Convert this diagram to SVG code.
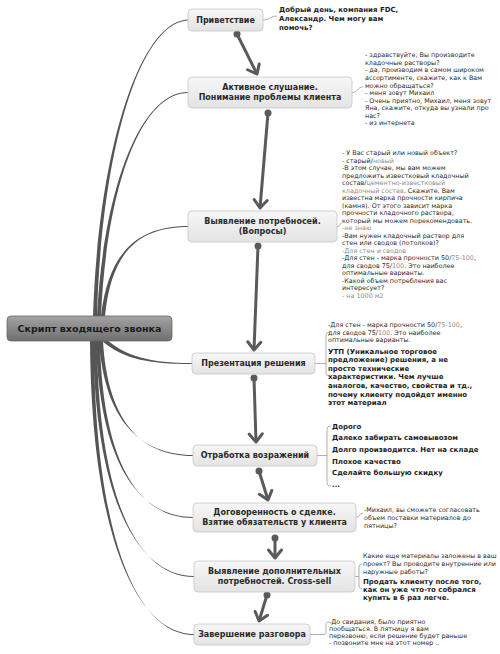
<svg xmlns="http://www.w3.org/2000/svg" width="500" height="654" viewBox="0 0 500 654">
<defs>
<style>
.s{font-family:"DejaVu Sans","Noto Sans",sans-serif;font-size:6.4px;fill:#2b2b2b}
.g{fill:#8c8c8c}
.b7{font-family:"DejaVu Sans","Noto Sans",sans-serif;font-weight:bold;font-size:7px;fill:#1e1e1e}
.nt{font-family:"DejaVu Sans","Noto Sans",sans-serif;font-weight:bold;font-size:8px;fill:#2a2a2a;text-anchor:middle}
.rt{font-family:"DejaVu Sans","Noto Sans",sans-serif;font-weight:bold;font-size:9.5px;fill:#1a1a1a;text-anchor:middle}
.node{fill:url(#ng);stroke:#c6c6c6;stroke-width:0.8}
.rc{fill:#555}
.flow{fill:none;stroke:#5a5a5a;stroke-width:3;marker-end:url(#ah)}
.dot{fill:#5a5a5a}
.thin{fill:none;stroke:#9a9a9a;stroke-width:0.8}
</style>
<linearGradient id="ng" x1="0" y1="0" x2="0" y2="1">
<stop offset="0" stop-color="#f7f7f7"/>
<stop offset="1" stop-color="#e3e3e3"/>
</linearGradient>
<linearGradient id="rg" x1="0" y1="0" x2="0" y2="1">
<stop offset="0" stop-color="#a3a3a3"/>
<stop offset="1" stop-color="#6f6f6f"/>
</linearGradient>
<marker id="ah" markerUnits="userSpaceOnUse" markerWidth="20" markerHeight="20" viewBox="-10 -10 20 20" refX="0" refY="0" orient="auto" overflow="visible">
<path d="M-8,-6.5 L0,0 L-8,6.5" fill="none" stroke="#5a5a5a" stroke-width="3" stroke-linecap="round" stroke-linejoin="round"/>
</marker>
</defs>
<rect width="500" height="654" fill="#ffffff"/>

<g id="connectors">
<path class="rc" d="M93,316 C98.5,150 140,19.4 189,19.5 L189,20.5 C140,20.6 101.5,150 97,316 Z"/>
<path class="rc" d="M97,316 C103.5,190 140,91.9 188,92 L188,93 C140,93.1 106.5,190 101,316 Z"/>
<path class="rc" d="M101,316 C108.5,250 140,225.9 188,226 L188,227 C140,227.1 111.5,250 105,316 Z"/>
<path class="rc" d="M102.7,341.5 C124,359.5 150,364.1 192,364 L192,363 C150,362.9 126,356.5 105.3,338.5 Z"/>
<path class="rc" d="M99,341 C104.5,420 140,454.9 193,455 L193,456 C140,456.1 107.5,420 103,341 Z"/>
<path class="rc" d="M96,341 C99.5,465 140,516.9 193,517 L193,518 C140,518.1 102.5,465 100,341 Z"/>
<path class="rc" d="M93,341 C95.5,505 140,575.9 194,576 L194,577 C140,577.1 98.5,505 97,341 Z"/>
<path class="rc" d="M90,341 C91.5,545 140,633.9 194,634 L194,635 C140,635.1 94.5,545 94,341 Z"/>

<line class="flow" x1="237" y1="34" x2="257" y2="74"/>
<circle class="dot" cx="237" cy="34" r="3.5"/>
<line class="flow" x1="268" y1="113" x2="260" y2="208"/>
<circle class="dot" cx="268" cy="113" r="3.5"/>
<line class="flow" x1="258" y1="246" x2="254" y2="350"/>
<circle class="dot" cx="258" cy="246" r="3.5"/>
<line class="flow" x1="254" y1="378" x2="256" y2="442"/>
<circle class="dot" cx="254" cy="378" r="3.5"/>
<line class="flow" x1="259" y1="471" x2="268" y2="500"/>
<circle class="dot" cx="259" cy="471" r="3.5"/>
<line class="flow" x1="275" y1="538" x2="275" y2="558"/>
<circle class="dot" cx="275" cy="538" r="3.5"/>
<line class="flow" x1="267" y1="595" x2="259" y2="621"/>
<circle class="dot" cx="267" cy="595" r="3.5"/>

<path class="thin" d="M263,20 C270,20 270,16 277,16"/>
<path class="thin" d="M352,92.5 C358,92.5 357,87 363,87"/>
<path class="thin" d="M337,226.5 C341,226.5 339,223 342,223"/>
<path class="thin" d="M315,363.5 L326,363.5 M330,332 C327,332 326,333 326,336 L326,372 C326,375 327,376 330,376"/>
<path class="thin" d="M317,455.5 L327,455.5 M331,426 C328,426 327,427 327,430 L327,482 C327,485 328,486 331,486"/>
<path class="thin" d="M356,517.5 C360,517.5 359,513 363,513"/>
<path class="thin" d="M355,576.5 L359,576.5 M362,564 C360,564 359,565 359,567 L359,586 C359,588 360,589 362,589"/>
<path class="thin" d="M310,634.5 L324,634.5 C326,634.5 326,633 326,631 L326,625 C326,623 327,622 329,622"/>
</g>

<g id="root">
<rect x="7" y="316" width="165" height="25" rx="4" fill="url(#rg)" stroke="#6a6a6a" stroke-width="0.8"/>
<text class="rt" x="89.5" y="332.3">Скрипт входящего звонка</text>
</g>

<g id="n1">
<rect class="node" x="188" y="9" width="75" height="22" rx="4"/>
<text class="nt" x="225.5" y="22.9">Приветствие</text>
<text class="b7"><tspan x="279" y="12">Добрый день, компания FDC,</tspan><tspan x="279" y="21">Александр. Чем могу вам</tspan><tspan x="279" y="30">помочь?</tspan></text>
</g>

<g id="n2">
<rect class="node" x="188" y="77" width="164" height="31" rx="4"/>
<text class="nt"><tspan x="270" y="90.4">Активное слушание.</tspan><tspan x="270" y="100.4">Понимание проблемы клиента</tspan></text>
<text class="s"><tspan x="365" y="57.3">- здравствуйте, Вы производите</tspan><tspan x="365" y="64.85">кладочные растворы?</tspan><tspan x="365" y="72.4">- да, производим в самом широком</tspan><tspan x="365" y="79.95">ассортименте, скажите, как к Вам</tspan><tspan x="365" y="87.5">можно обращаться?</tspan><tspan x="365" y="95.05">- меня зовут Михаил</tspan><tspan x="365" y="102.6">- Очень приятно, Михаил, меня зовут</tspan><tspan x="365" y="110.15">Яна, скажите, откуда вы узнали про</tspan><tspan x="365" y="117.7">нас?</tspan><tspan x="365" y="125.25">- из интернета</tspan></text>
</g>

<g id="n3">
<rect class="node" x="188" y="211" width="149" height="31" rx="4"/>
<text class="nt"><tspan x="262.5" y="224.4">Выявление потребносей.</tspan><tspan x="262.5" y="234.4">(Вопросы)</tspan></text>
<text class="s"><tspan x="342" y="155.3">- У Вас старый или новый объект?</tspan><tspan x="342" y="162.8">- старый/<tspan class="g">новый</tspan></tspan><tspan x="342" y="170.3">-В этом случае, мы вам можем</tspan><tspan x="342" y="177.8">предложить известковый кладочный</tspan><tspan x="342" y="185.3">состав/<tspan class="g">цементно-известковый</tspan></tspan><tspan x="342" y="192.8" class="g">кладочный состав<tspan style="fill:#2b2b2b">. Скажите, Вам</tspan></tspan><tspan x="342" y="200.3">известна марка прочности кирпича</tspan><tspan x="342" y="207.8">(камня). От этого зависит марка</tspan><tspan x="342" y="215.3">прочности кладочного раствора,</tspan><tspan x="342" y="222.8">который мы можем порекомендовать.</tspan><tspan x="342" y="230.3" class="g">-не знаю</tspan><tspan x="342" y="237.8">-Вам нужен кладочный раствор для</tspan><tspan x="342" y="245.3">стен или сводов (потолков)?</tspan><tspan x="342" y="252.8" class="g">-Для стен и сводов</tspan><tspan x="342" y="260.3">-Для стен - марка прочности 50/<tspan class="g">75-100</tspan>,</tspan><tspan x="342" y="267.8">для сводов 75/<tspan class="g">100</tspan>. Это наиболее</tspan><tspan x="342" y="275.3">оптимальные варианты.</tspan><tspan x="342" y="282.8">-Какой объем потребления вас</tspan><tspan x="342" y="290.3">интересует?</tspan><tspan x="342" y="297.8" class="g">- на 1000 м2</tspan></text>
</g>

<g id="n4">
<rect class="node" x="192" y="353" width="123" height="21" rx="4"/>
<text class="nt" x="253.5" y="366.4">Презентация решения</text>
<text class="s"><tspan x="328" y="327.3">-Для стен - марка прочности 50/<tspan class="g">75-100</tspan>,</tspan><tspan x="328" y="334.5">для сводов 75/<tspan class="g">100</tspan>. Это наиболее</tspan><tspan x="328" y="341.7">оптимальные варианты.</tspan></text>
<text class="b7"><tspan x="328" y="353.5">УТП (Уникальное торговое</tspan><tspan x="328" y="362.1">предложение) решения, а не</tspan><tspan x="328" y="370.7">просто технические</tspan><tspan x="328" y="379.3">характеристики. Чем лучше</tspan><tspan x="328" y="387.9">аналогов, качество, свойства и тд.,</tspan><tspan x="328" y="396.5">почему клиенту подойдет именно</tspan><tspan x="328" y="405.1">этот материал</tspan></text>
</g>

<g id="n5">
<rect class="node" x="193" y="445" width="124" height="21" rx="4"/>
<text class="nt" x="255" y="458.4">Отработка возражений</text>
<text class="b7"><tspan x="332" y="428.5">Дорого</tspan><tspan x="332" y="440.2">Далеко забирать самовывозом</tspan><tspan x="332" y="451.9">Долго производится. Нет на складе</tspan><tspan x="332" y="463.6">Плохое качество</tspan><tspan x="332" y="475.3">Сделайте большую скидку</tspan><tspan x="332" y="487">...</tspan></text>
</g>

<g id="n6">
<rect class="node" x="193" y="503" width="163" height="29" rx="4"/>
<text class="nt"><tspan x="274.5" y="515.4">Договоренность о сделке.</tspan><tspan x="274.5" y="525.4">Взятие обязательств у клиента</tspan></text>
<text class="s"><tspan x="364" y="512.3">-Михаил, вы сможете согласовать</tspan><tspan x="364" y="520.1">объем поставки материалов до</tspan><tspan x="364" y="527.9">пятницы?</tspan></text>
</g>

<g id="n7">
<rect class="node" x="194" y="561" width="161" height="31" rx="4"/>
<text class="nt"><tspan x="274.5" y="574.4">Выявление дополнительных</tspan><tspan x="274.5" y="584.4">потребностей. Cross-sell</tspan></text>
<text class="s"><tspan x="363" y="558.3">Какие еще материалы заложены в ваш</tspan><tspan x="363" y="566">проект? Вы проводите внутренние или</tspan><tspan x="363" y="573.7">наружные работы?</tspan></text>
<text class="b7"><tspan x="363" y="584">Продать клиенту после того,</tspan><tspan x="363" y="592">как он уже что-то собрался</tspan><tspan x="363" y="600">купить в 6 раз легче.</tspan></text>
</g>

<g id="n8">
<rect class="node" x="194" y="624" width="116" height="21" rx="4"/>
<text class="nt" x="252" y="637.4">Завершение разговора</text>
<text class="s"><tspan x="329" y="624.3">-До свидания, было приятно</tspan><tspan x="329" y="631.3">пообщаться. В пятницу я вам</tspan><tspan x="329" y="638.3">перезвоню, если решение будет раньше</tspan><tspan x="329" y="645.3">- позвоните мне на этот номер ..</tspan></text>
</g>
</svg>
